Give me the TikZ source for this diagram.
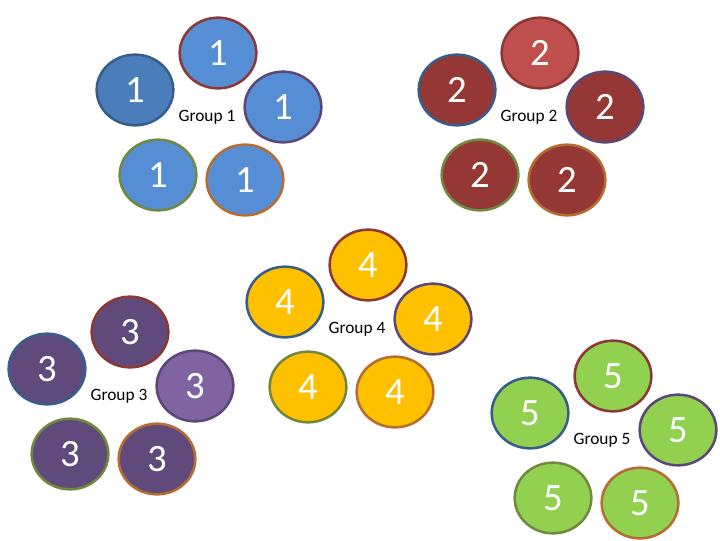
\documentclass[tikz,border=0pt]{standalone}
\usepackage{fontspec}
\setmainfont{Carlito}
\usetikzlibrary{shapes.geometric}

\definecolor{blueMain}{HTML}{558ED5}
\definecolor{blueDark}{HTML}{4A7EBB}
\definecolor{redMain}{HTML}{953735}
\definecolor{redLight}{HTML}{C0504D}
\definecolor{purpleMain}{HTML}{604A7B}
\definecolor{purpleLight}{HTML}{8064A2}
\definecolor{amber}{HTML}{FFC000}
\definecolor{lime}{HTML}{92D050}
\definecolor{rimBlue}{HTML}{385D8A}
\definecolor{rimRed}{HTML}{8C3836}
\definecolor{rimPurple}{HTML}{5C4776}
\definecolor{rimGreen}{HTML}{71893F}
\definecolor{rimOrange}{HTML}{B66D31}

\tikzset{
  ball/.style={ellipse, draw, line width=1.9pt, inner sep=0pt,
    minimum width=57.5pt, minimum height=53pt, text=white,
    font=\fontsize{29}{29}\selectfont},
  grouplabel/.style={font=\fontsize{13}{14}\selectfont}
}

\begin{document}
\begin{tikzpicture}[x=0.75pt,y=-0.75pt]
\useasboundingbox (0,0) rectangle (720,540);
% one label and five balls per group
\foreach \g/\gx/\gy/\cl/\ct/\cr/\cm in {
    1/207/117/blueDark/blueMain/blueMain/blueMain,
    2/529/117/redMain/redLight/redMain/redMain,
    3/119/396/purpleMain/purpleMain/purpleLight/purpleMain,
    4/357/329/amber/amber/amber/amber,
    5/602/440/lime/lime/lime/lime}{
    \node[grouplabel] (g\g) at (\gx,\gy) {Group \g};
    \node[ball, fill=\cl, draw=rimBlue] (g\g-l) at ([shift={(-72,-27)}]g\g) {\g};
    \node[ball, fill=\ct, draw=rimRed] (g\g-t) at ([shift={(11,-64)}]g\g) {\g};
    \node[ball, fill=\cr, draw=rimPurple] (g\g-r) at ([shift={(76,-10)}]g\g) {\g};
    \node[ball, fill=\cm, draw=rimGreen] (g\g-bl) at ([shift={(-49,58)}]g\g) {\g};
    \node[ball, fill=\cm, draw=rimOrange] (g\g-br) at ([shift={(38,63)}]g\g) {\g};
}
\end{tikzpicture}
\end{document}
